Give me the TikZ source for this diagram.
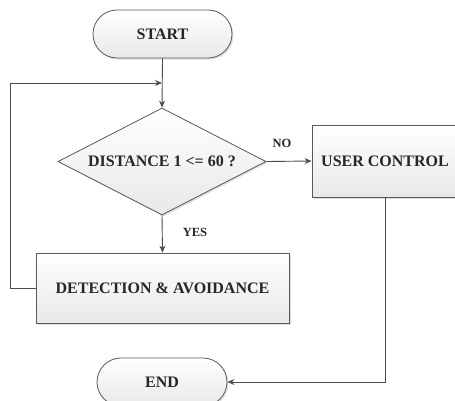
\documentclass[tikz,border=0pt]{standalone}
\usepackage{fontspec}
\setmainfont{Liberation Serif}
\usetikzlibrary{shapes.geometric,shadows,arrows.meta}

\begin{document}
\begin{tikzpicture}[x=1pt, y=-1pt, >={Stealth[length=7pt,width=6pt]},
  every node/.style={font=\fontsize{16}{18}\selectfont\bfseries, text=black!85},
  flowline/.style={draw=black!70, line width=0.9pt},
  shadowed/.style={draw=black!65, line width=0.8pt, top color=white, bottom color=black!9,
    drop shadow={shadow xshift=1.5pt, shadow yshift=-1.5pt, opacity=0.25}},
  terminal/.style={shadowed, rectangle, rounded corners=24pt, minimum height=48pt, inner sep=0pt},
  process/.style={shadowed, rectangle, inner sep=0pt},
  decision/.style={shadowed, diamond, aspect=2, inner sep=0pt, minimum width=208pt, minimum height=107pt},
  branch/.style={font=\fontsize{12.5}{14}\selectfont\bfseries}]

  \useasboundingbox (0,0) rectangle (455,400);

  \node[terminal, minimum width=139pt] (start) at (162.5,34) {START};
  \node[decision] (dist) at (162,161.5) {DISTANCE 1 <= 60 ?};
  \node[process, minimum width=146pt, minimum height=72pt] (user) at (385,161) {USER CONTROL};
  \node[process, minimum width=253pt, minimum height=70pt] (detect) at (162.5,288) {DETECTION \& AVOIDANCE};
  \node[terminal, minimum width=130pt] (end) at (162,382) {END};

  \coordinate (join) at (dist.north |- 0,83);

  \draw[flowline, ->] (start.south) -- (dist.north);
  \draw[flowline, ->] (dist.east) -- (user.west);
  \draw[flowline, ->] (dist.south) -- (detect.north);
  \draw[flowline, ->] (detect.west) -- (10,288) -- (10,83) -- (join);
  \draw[flowline, ->] (user.south) -- (user.south |- end.east) -- (end.east);

  \node[branch] (no) at (282,143) {NO};
  \node[branch] (yes) at (195,232) {YES};
\end{tikzpicture}
\end{document}
